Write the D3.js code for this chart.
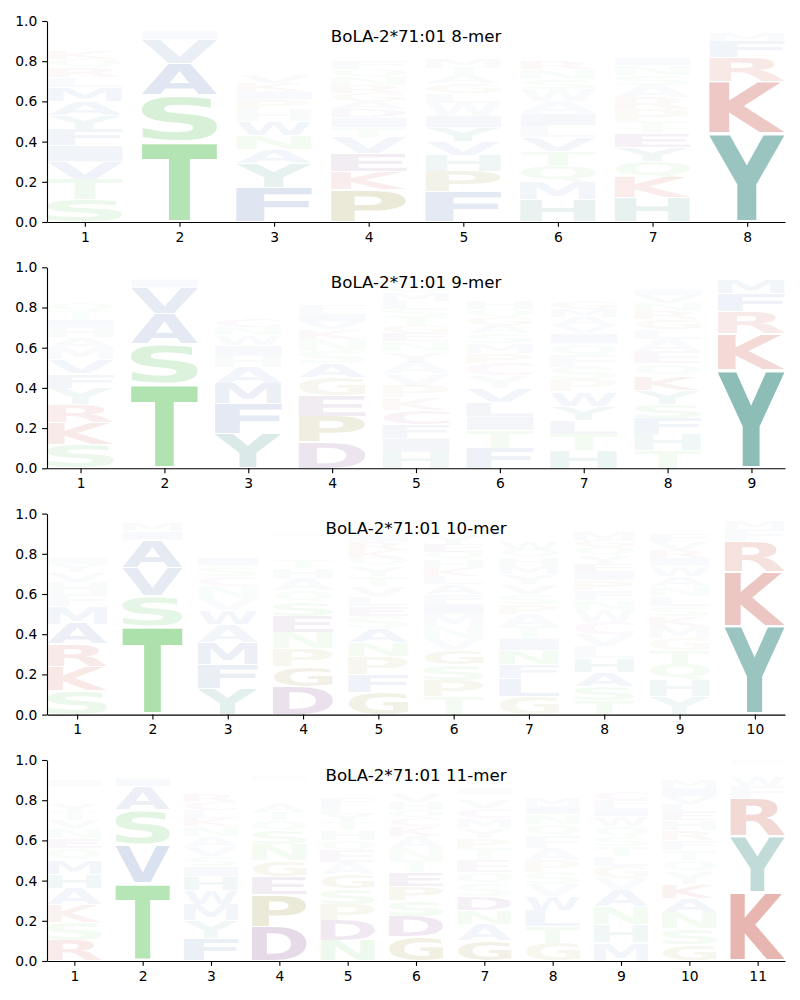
<!DOCTYPE html>
<html>
<head>
<meta charset="utf-8">
<script src="https://cdn.jsdelivr.net/npm/d3@7"></script>
<style>
  body { margin: 0; background: #fff; }
</style>
</head>
<body>
<svg id="chart"></svg>
<script>
// letter probabilities per position (bottom-to-top order is by size)
const titles = ["BoLA-2*71:01 8-mer", "BoLA-2*71:01 9-mer", "BoLA-2*71:01 10-mer", "BoLA-2*71:01 11-mer"];

const mer8 = [
  {S:.11,T:.10,V:.09,I:.08,F:.08,Y:.07,A:.07,M:.07,L:.05,R:.05,Q:.04,K:.04,W:.03,E:.03,H:.03,N:.02,G:.02,P:.01,C:.01},
  {T:.40,S:.23,A:.16,V:.12,I:.04,L:.02,M:.01,G:.01,F:.01},
  {F:.17,Y:.12,A:.07,N:.07,W:.07,H:.06,P:.05,I:.04,K:.04,V:.04,E:.03,L:.03,Q:.03,S:.03,G:.03,R:.03,M:.03,C:.02,D:.02,T:.02},
  {P:.16,K:.09,E:.09,V:.08,T:.05,I:.05,D:.04,A:.04,G:.04,R:.04,N:.04,Q:.04,F:.04,S:.03,L:.03,M:.03,W:.03,H:.03,Y:.03,C:.02},
  {F:.15,P:.10,H:.08,V:.07,Y:.07,I:.06,W:.06,L:.05,G:.05,A:.04,T:.04,M:.04,C:.03,K:.03,E:.03,S:.03,Q:.02,R:.02,N:.02,D:.01},
  {H:.11,M:.09,Q:.08,T:.07,V:.07,L:.06,I:.06,A:.06,W:.06,S:.05,N:.05,R:.04,E:.03,F:.03,G:.03,Y:.03,K:.02,D:.02,C:.02,P:.02},
  {H:.12,K:.10,Q:.08,Y:.07,E:.07,T:.06,P:.06,R:.06,A:.06,S:.05,N:.05,I:.04,G:.03,V:.03,L:.03,M:.02,W:.02,F:.02,D:.02,C:.01},
  {Y:.44,K:.26,R:.12,F:.08,M:.04,L:.03,W:.02,I:.01}
];

const mer9 = [
  {S:.12,K:.11,R:.09,Y:.08,F:.07,V:.07,M:.06,A:.05,H:.05,I:.04,T:.04,Q:.04,L:.03,N:.03,E:.02,G:.02,W:.02,P:.02,D:.02,C:.02},
  {T:.42,S:.20,A:.15,V:.13,I:.04,M:.03,L:.01,G:.01,F:.01},
  {Y:.17,F:.15,M:.10,A:.08,H:.06,I:.05,W:.05,N:.04,C:.04,V:.03,L:.03,Q:.03,S:.03,T:.03,E:.02,K:.02,R:.02,G:.02,P:.02,D:.01},
  {D:.13,P:.13,E:.10,G:.09,A:.07,S:.06,N:.06,K:.05,V:.04,I:.04,F:.04,T:.03,Q:.03,L:.03,H:.02,R:.02,M:.02,Y:.02,W:.01,C:.01},
  {H:.08,I:.07,F:.07,C:.07,K:.06,P:.06,V:.06,A:.06,Y:.05,N:.05,E:.04,G:.04,T:.04,S:.04,L:.04,M:.04,Q:.04,R:.03,W:.03,D:.03},
  {F:.10,T:.09,I:.07,L:.07,V:.07,Y:.06,C:.06,P:.05,M:.05,S:.05,A:.04,G:.04,Q:.04,H:.04,N:.03,E:.03,K:.03,R:.03,W:.03,D:.02},
  {H:.09,T:.08,L:.07,Y:.07,W:.07,P:.06,S:.06,F:.06,Q:.06,I:.05,V:.04,A:.04,M:.04,G:.04,N:.03,E:.03,R:.03,K:.03,C:.03,D:.02},
  {T:.09,H:.08,F:.08,S:.07,Y:.07,K:.07,Q:.06,E:.06,A:.06,L:.05,G:.05,R:.04,N:.04,V:.04,I:.03,M:.03,W:.03,D:.02,C:.02,P:.01},
  {Y:.49,K:.18,R:.11,F:.09,M:.07,L:.03,W:.03}
];

const mer10 = [
  {S:.12,K:.12,R:.11,A:.10,M:.09,F:.06,H:.06,V:.05,Y:.04,I:.03,T:.03,Q:.03,L:.03,E:.03,N:.02,W:.02,G:.02,D:.02,C:.01,P:.01},
  {T:.44,S:.15,V:.14,A:.14,I:.04,M:.04,L:.02,G:.01,F:.01,C:.01},
  {Y:.13,F:.12,M:.11,A:.09,W:.07,V:.06,N:.06,C:.05,S:.05,I:.04,H:.03,L:.03,Q:.03,T:.03,K:.02,R:.02,E:.02,G:.02,D:.01,P:.01},
  {D:.14,G:.10,P:.09,N:.08,E:.08,S:.07,Q:.06,A:.06,H:.05,T:.04,K:.03,R:.03,V:.03,L:.03,I:.02,F:.02,M:.02,Y:.02,W:.02,C:.01},
  {G:.11,F:.09,P:.09,N:.07,A:.07,S:.06,E:.05,L:.05,V:.05,T:.05,Y:.05,Q:.04,K:.04,R:.04,I:.03,M:.03,H:.03,W:.02,D:.02,C:.01},
  {T:.09,P:.08,S:.08,G:.07,V:.06,N:.06,M:.06,I:.05,F:.05,A:.05,L:.04,K:.04,H:.04,Q:.04,E:.04,Y:.04,R:.03,W:.03,D:.03,C:.02},
  {G:.09,L:.09,F:.07,N:.07,I:.06,T:.06,A:.06,P:.05,S:.05,V:.05,Y:.05,M:.04,H:.04,Q:.04,W:.04,E:.03,K:.03,R:.03,D:.03,C:.02},
  {T:.07,S:.07,A:.07,H:.07,L:.06,V:.06,C:.06,W:.06,N:.05,F:.05,P:.05,I:.04,E:.04,Y:.04,Q:.04,G:.04,M:.04,K:.03,R:.03,D:.03},
  {Y:.09,H:.08,Q:.08,T:.07,G:.06,M:.06,K:.05,S:.05,L:.05,N:.05,A:.05,W:.05,I:.04,R:.04,V:.04,F:.04,E:.03,P:.03,C:.02,D:.02},
  {Y:.44,K:.27,R:.15,F:.06,M:.04,L:.02,W:.02}
];

const mer11 = [
  {R:.10,S:.09,K:.09,A:.08,H:.07,M:.07,Q:.06,E:.05,N:.05,V:.04,T:.04,Y:.04,C:.03,F:.03,L:.03,I:.03,G:.03,P:.03,W:.02,D:.02},
  {T:.39,V:.19,S:.17,A:.12,I:.04,L:.02,M:.02,G:.02,C:.02,F:.01},
  {F:.11,Y:.09,M:.08,W:.07,H:.07,I:.05,S:.05,V:.05,A:.05,N:.05,K:.04,L:.04,C:.04,R:.04,Q:.03,T:.03,E:.03,G:.03,P:.03,D:.02},
  {D:.17,P:.16,E:.09,G:.08,N:.08,S:.07,Q:.05,T:.04,A:.04,H:.03,K:.03,R:.02,V:.02,L:.02,I:.02,F:.02,M:.02,Y:.02,W:.01,C:.01},
  {N:.10,D:.10,P:.08,S:.08,G:.07,A:.06,E:.06,Q:.05,H:.05,T:.04,Y:.04,L:.04,F:.04,V:.03,K:.03,R:.03,I:.03,M:.03,W:.02,C:.02},
  {G:.12,D:.10,S:.08,P:.07,E:.07,T:.06,N:.06,A:.06,K:.05,C:.04,Q:.04,H:.04,V:.04,Y:.03,L:.03,F:.03,I:.02,M:.02,W:.02,R:.02},
  {G:.10,A:.08,N:.07,D:.07,S:.06,Q:.06,E:.06,T:.06,P:.05,Y:.05,M:.05,C:.05,V:.04,L:.03,I:.03,H:.03,K:.03,R:.03,F:.03,W:.02},
  {G:.09,T:.08,L:.08,W:.07,V:.06,S:.06,P:.06,A:.06,F:.06,Q:.06,N:.05,I:.04,M:.04,H:.03,E:.03,K:.03,R:.03,Y:.03,D:.02,C:.02},
  {M:.09,H:.09,N:.09,A:.08,V:.06,G:.06,L:.05,T:.05,S:.05,Q:.05,W:.05,I:.04,F:.04,C:.04,Y:.03,E:.03,K:.03,R:.03,D:.02,P:.02},
  {G:.08,S:.08,N:.08,A:.07,K:.07,Y:.06,Q:.06,T:.05,F:.05,R:.05,H:.05,E:.04,L:.04,V:.04,I:.04,M:.04,W:.03,C:.03,D:.02,P:.02},
  {K:.34,Y:.28,R:.19,F:.06,W:.05,M:.03,L:.03,I:.02}
];

const panels = [mer8, mer9, mer10, mer11];
const yTicks = [0, 0.2, 0.4, 0.6, 0.8, 1.0];

// residue colours by chemistry
const colors = {};
"AVLIMFW".split("").forEach(c => colors[c] = "#3d60a7");
"STNQ".split("").forEach(c => colors[c] = "#4dbf4d");
"KR".split("").forEach(c => colors[c] = "#bb2f1f");
"DE".split("").forEach(c => colors[c] = "#661d71");
"GP".split("").forEach(c => colors[c] = "#7f7400");
"YH".split("").forEach(c => colors[c] = "#258176");
colors.C = "#a03580";

const config = {
    width: 800,
    height: 1000,
    left: 47,
    right: 785,
    tops: [21, 267.3, 513.6, 760],
    panelHeight: 201,
    letterWidth: 0.8,
    vpad: 0.05,
    font: "DejaVu Sans"
};

const svg = d3.select("#chart")
    .attr("width", config.width)
    .attr("height", config.height);

// ink extents of each glyph, so letters can be stretched to fill their box
const ctx = document.createElement("canvas").getContext("2d");
ctx.font = `bold 100px '${config.font}'`;
const inkCache = {};
function ink(ch) {
    if (!inkCache[ch]) {
        const m = ctx.measureText(ch);
        inkCache[ch] = { l: m.actualBoundingBoxLeft, r: m.actualBoundingBoxRight,
                         a: m.actualBoundingBoxAscent, d: m.actualBoundingBoxDescent };
    }
    return inkCache[ch];
}

// faint for rare residues, stronger for dominant ones
const opacity = d3.scalePow().exponent(1.1).domain([0, 0.88]).range([0, 1]).clamp(true);

panels.forEach((cols, i) => {
    const n = cols.length;
    const g = svg.append("g").attr("transform", `translate(0,${config.tops[i]})`);
    const x = d3.scaleLinear().domain([0.6, n + 0.4]).range([config.left, config.right]);
    const y = d3.scaleLinear().domain([0, 1]).range([config.panelHeight, 0]);

    // stack each column, biggest letter at the bottom
    const glyphs = [];
    cols.forEach((col, j) => {
        const entries = Object.entries(col).sort((a, b) => b[1] - a[1]);
        let cum = 0;
        entries.forEach(([ch, v]) => {
            glyphs.push({ pos: j + 1, ch: ch, v: v, y0: cum, y1: cum + v });
            cum += v;
        });
    });

    g.append("g").selectAll("text")
        .data(glyphs)
        .join("text")
        .text(d => d.ch)
        .attr("font-family", config.font)
        .attr("font-weight", "bold")
        .attr("font-size", 100)
        .attr("fill", d => colors[d.ch])
        .attr("fill-opacity", d => opacity(d.v))
        .attr("transform", d => {
            const pad = d.v * config.vpad / 2;
            const x0 = x(d.pos - config.letterWidth / 2), x1 = x(d.pos + config.letterWidth / 2);
            const yTop = y(d.y1 - pad), yBot = y(d.y0 + pad);
            const b = ink(d.ch);
            const sx = (x1 - x0) / (b.l + b.r), sy = (yBot - yTop) / (b.a + b.d);
            return `translate(${x0},${yTop}) scale(${sx},${sy}) translate(${b.l},${b.a})`;
        });

    const xAxis = g.append("g")
        .attr("transform", `translate(0,${config.panelHeight})`)
        .call(d3.axisBottom(x).tickValues(d3.range(1, n + 1)).tickFormat(d3.format("d"))
            .tickSize(4.86).tickPadding(4.86).tickSizeOuter(0));
    const yAxis = g.append("g")
        .attr("transform", `translate(${config.left},0)`)
        .call(d3.axisLeft(y).tickValues(yTicks).tickFormat(d3.format(".1f"))
            .tickSize(4.86).tickPadding(4.86).tickSizeOuter(0));

    [xAxis, yAxis].forEach(a => {
        a.selectAll("text").attr("font-family", config.font).attr("font-size", 13.89).attr("fill", "#000");
        a.selectAll("line").attr("stroke", "#000").attr("stroke-width", 1.11);
        a.select(".domain").attr("stroke", "#000").attr("stroke-width", 1.11);
    });

    g.append("text")
        .attr("x", (config.left + config.right) / 2)
        .attr("y", 20.5)
        .attr("text-anchor", "middle")
        .attr("font-family", config.font)
        .attr("font-size", 16.67)
        .attr("fill", "#000")
        .text(titles[i]);
});
</script>
</body>
</html>
